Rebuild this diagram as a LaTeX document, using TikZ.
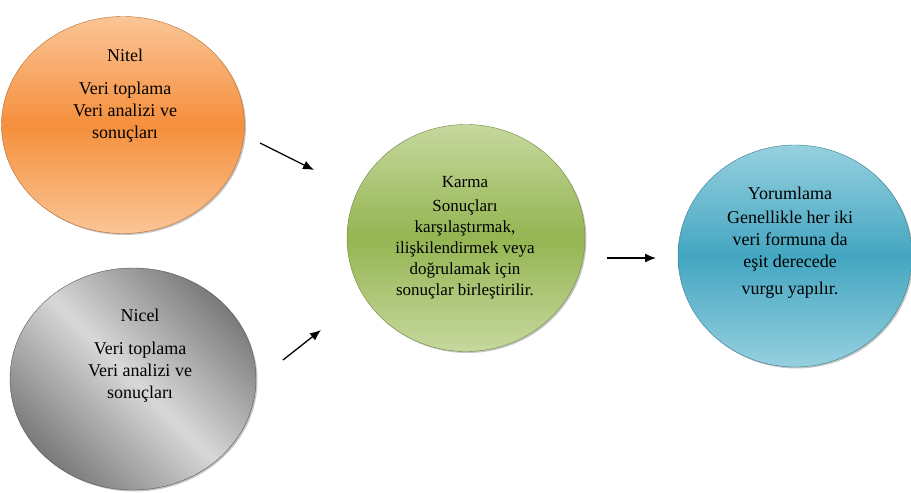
\documentclass[tikz,border=0pt]{standalone}
\usepackage{fontspec}
\setmainfont{Liberation Serif}
\usetikzlibrary{shapes.geometric,arrows.meta,shadows}

\definecolor{orlight}{HTML}{FAC596}
\definecolor{ordark}{HTML}{F58F3C}
\definecolor{grlight}{HTML}{D8D8D8}
\definecolor{grdark}{HTML}{7A7A7A}
\definecolor{gnlight}{HTML}{C6D89E}
\definecolor{gndark}{HTML}{94B552}
\definecolor{bllight}{HTML}{96D0DF}
\definecolor{bldark}{HTML}{44A6C1}

\tikzset{
  bubble/.style={ellipse, minimum width=#1, inner sep=0pt,
    drop shadow={shadow xshift=1.5pt, shadow yshift=-1.5pt, opacity=.45}},
  txt/.style={align=center, font=\fontsize{18}{22}\selectfont},
  flow/.style={-{Latex[length=11pt,width=9pt]}, line width=1.3pt}
}

\begin{document}
\begin{tikzpicture}[x=1pt,y=-1pt]
  \useasboundingbox (0,0) rectangle (911,493);

  % circles
  \node[bubble=243pt, minimum height=217pt, top color=orlight, bottom color=orlight,
        middle color=ordark, draw=ordark!75!black, line width=.4pt] (nitel) at (123,125) {};
  \node[bubble=246pt, minimum height=222pt, top color=grdark, bottom color=grdark,
        middle color=grlight, shading angle=-45, draw=grdark!70!black, line width=.4pt] (nicel) at (133,379) {};
  \node[bubble=238pt, minimum height=227pt, top color=gnlight, bottom color=gnlight,
        middle color=gndark, draw=gndark!75!black, line width=.4pt] (karma) at (466,238) {};
  \node[bubble=234pt, minimum height=222pt, top color=bllight, bottom color=bllight,
        middle color=bldark, draw=bldark!75!black, line width=.4pt] (yorum) at (795,256) {};

  % texts
  \node[txt] (nitel-t) at (125,96) {Nitel\\[11pt]Veri toplama\\Veri analizi ve\\sonuçları};
  \node[txt] (nicel-t) at (140,356) {Nicel\\[11pt]Veri toplama\\Veri analizi ve\\sonuçları};
  \node[txt, font=\fontsize{17}{21}\selectfont] (karma-t) at (465,238)
    {Karma\\[3pt]Sonuçları\\karşılaştırmak,\\ilişkilendirmek veya\\doğrulamak için\\sonuçlar birleştirilir.};
  \node[txt] (yorum-t) at (790,243)
    {Yorumlama\\[2pt]Genellikle her iki\\veri formuna da\\eşit derecede\\[5pt]vurgu yapılır.};

  % arrows
  \coordinate (a1s) at (260,143);
  \coordinate (a1e) at (314,170);
  \coordinate (a2s) at (283,360);
  \coordinate (a2e) at (321,330);
  \coordinate (a3s) at (607,258);
  \coordinate (a3e) at (656,258);
  \draw[flow] (a1s) -- (a1e);
  \draw[flow] (a2s) -- (a2e);
  \draw[flow] (a3s) -- (a3e);
\end{tikzpicture}
\end{document}
